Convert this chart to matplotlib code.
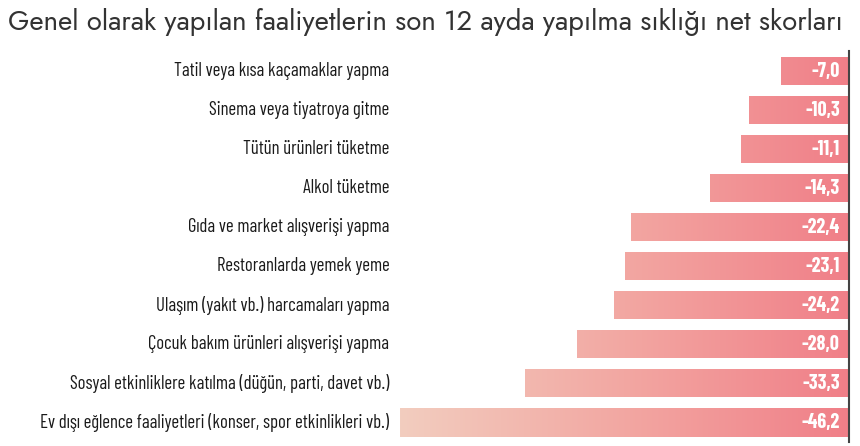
import matplotlib
matplotlib.use("Agg")
import matplotlib.pyplot as plt
import numpy as np
from matplotlib.colors import LinearSegmentedColormap

# veriler
categories = [
    "Tatil veya kısa kaçamaklar yapma",
    "Sinema veya tiyatroya gitme",
    "Tütün ürünleri tüketme",
    "Alkol tüketme",
    "Gıda ve market alışverişi yapma",
    "Restoranlarda yemek yeme",
    "Ulaşım (yakıt vb.) harcamaları yapma",
    "Çocuk bakım ürünleri alışverişi yapma",
    "Sosyal etkinliklere katılma (düğün, parti, davet vb.)",
    "Ev dışı eğlence faaliyetleri (konser, spor etkinlikleri vb.)",
]
values = [-7.0, -10.3, -11.1, -14.3, -22.4, -23.1, -24.2, -28.0, -33.3, -46.2]

label_font = ["Barlow Condensed", "DejaVu Sans"]
title_font = ["Jost", "DejaVu Sans"]

W, H = 860, 446
fig = plt.figure(figsize=(W / 100, H / 100), dpi=100)
ax = fig.add_axes([400 / W, 1 - 442 / H, 449 / W, (442 - 51.5) / H])

cmap = LinearSegmentedColormap.from_list("g", ["#F2CDBF", "#F3A7A2", "#F07F88"])
xmin = min(values)
n = len(values)

y = np.arange(n)
bars = ax.barh(y, values, height=0.72, color="none", edgecolor="none")
grad = np.linspace(0, 1, 256).reshape(1, -1)
for b, v in zip(bars, values):
    im = ax.imshow(grad, cmap=cmap, aspect="auto",
                   extent=[xmin, 0, n - 0.5, -0.5], zorder=1)
    im.set_clip_path(b)
    ax.text(-0.95, b.get_y() + b.get_height() / 2, f"{v:.1f}".replace(".", ","),
            ha="right", va="center", color="white", fontsize=14.5,
            fontweight="bold", family=label_font, zorder=3)

ax.set_xlim(xmin, 0)
ax.set_ylim(n - 0.5, -0.5)

for i, c in enumerate(categories):
    ax.text(-47.3, i, c, ha="right", va="center", fontsize=13.5,
            color="#1a1a1a", family=label_font)

for s in ["top", "bottom", "left"]:
    ax.spines[s].set_visible(False)
ax.spines["right"].set_color("#444444")
ax.spines["right"].set_linewidth(1.5)
ax.set_xticks([])
ax.set_yticks([])

fig.text(8 / W, 1 - 22 / H, "Genel olarak yapılan faaliyetlerin son 12 ayda yapılma sıklığı net skorları",
         ha="left", va="center", fontsize=19.8, color="#333333",
         family=title_font, fontweight="light")

fig.savefig("out.png", dpi=100)
